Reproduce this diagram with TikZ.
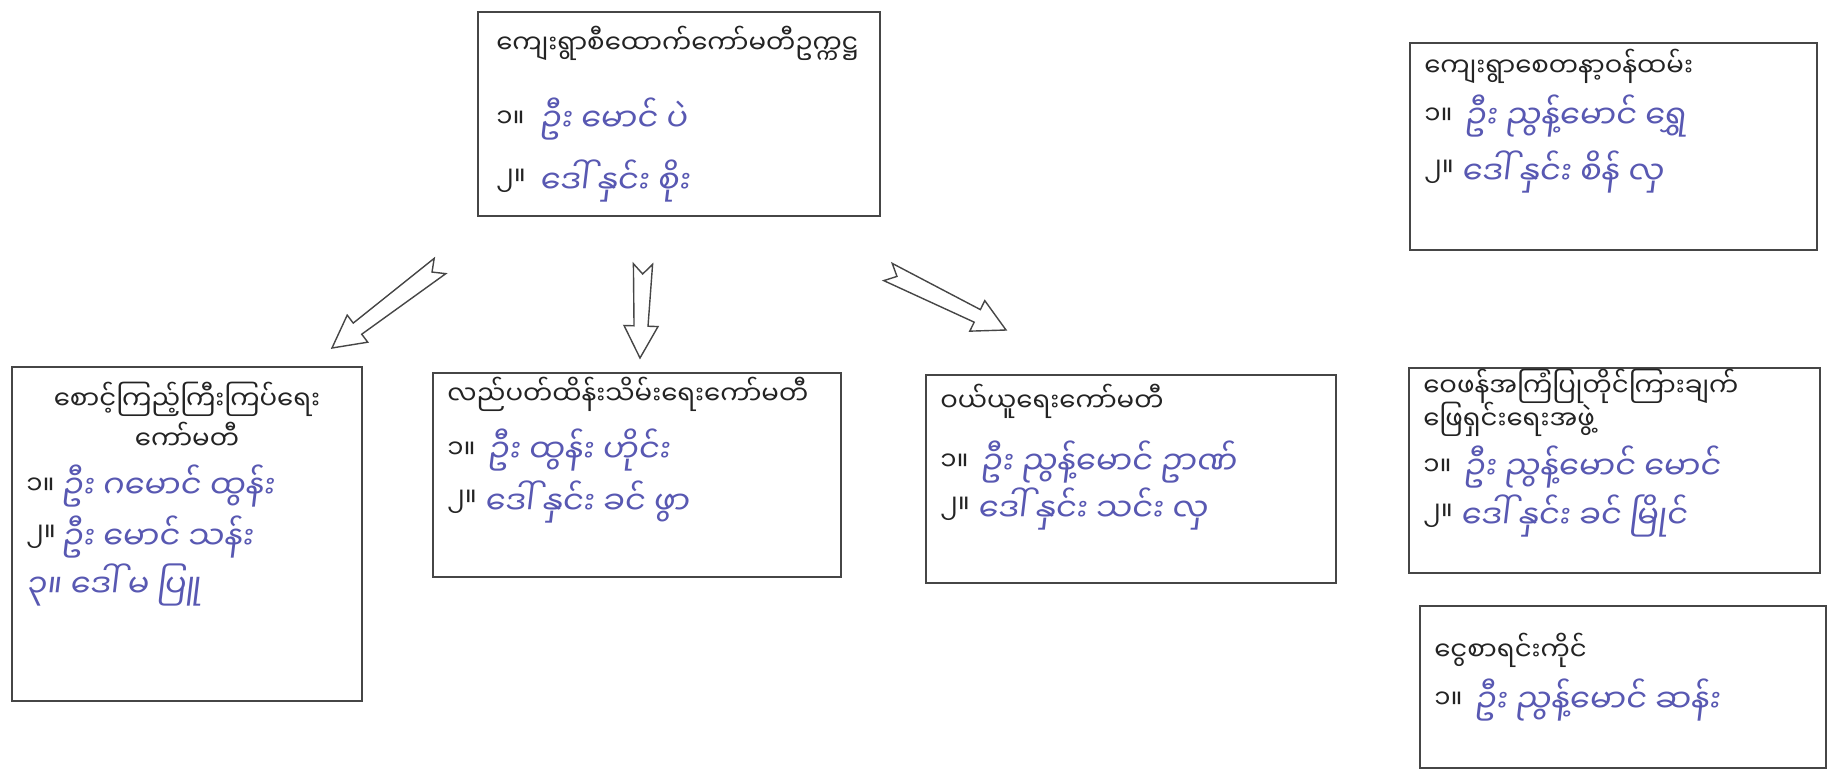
\documentclass[tikz,border=0pt]{standalone}
\usepackage{fontspec}
\usetikzlibrary{calc,fit}
\newfontfamily\mmfont[Script=Myanmar]{Noto Sans Myanmar UI}
\newfontfamily\mmhand[Script=Myanmar,FakeSlant=0.12]{Noto Sans Myanmar UI}
\definecolor{ink}{RGB}{88,88,178}
\definecolor{frame}{RGB}{70,70,70}
\definecolor{print}{RGB}{35,35,35}

\begin{document}
\begin{tikzpicture}[x=0.5pt,y=-0.5pt,
    box/.style={draw=frame, line width=1pt, inner sep=0pt},
    title/.style={anchor=west, inner sep=0pt, text=print, font=\mmfont\fontsize{13}{14}\selectfont},
    hand/.style={anchor=west, inner sep=0pt, text=ink, font=\mmhand\fontsize{16}{18}\selectfont},
    hollowarrow/.style={draw=frame, line width=0.7pt, fill=white, line join=miter,
        to path={($(\tikztostart)!5pt!(\tikztotarget)$)
            -- ($(\tikztostart)!4.8pt!90:(\tikztotarget)$)
            -- ($(\tikztotarget)!16pt!(\tikztostart)!3.5pt!90:(\tikztotarget)$)
            -- ($(\tikztotarget)!16pt!(\tikztostart)!8.5pt!90:(\tikztotarget)$)
            -- (\tikztotarget)
            -- ($(\tikztotarget)!16pt!(\tikztostart)!8.5pt!270:(\tikztotarget)$)
            -- ($(\tikztotarget)!16pt!(\tikztostart)!3.5pt!270:(\tikztotarget)$)
            -- ($(\tikztostart)!4.8pt!270:(\tikztotarget)$)
            -- cycle}}]
\useasboundingbox[fill=white] (0,0) rectangle (1838,772);

% boxes
\node[box, fit={(478,12) (880,216)}] (chair) {};
\node[box, fit={(12,367) (362,701)}] (watch) {};
\node[box, fit={(433,373) (841,577)}] (maint) {};
\node[box, fit={(926,375) (1336,583)}] (buy) {};
\node[box, fit={(1410,43) (1817,250)}] (volun) {};
\node[box, fit={(1409,368) (1820,573)}] (review) {};
\node[box, fit={(1420,606) (1826,768)}] (cash) {};

% chairman
\node[title] (chairT) at ($(chair.north west)+(19,32)$) {ကျေးရွာစီထောက်ကော်မတီဥက္ကဋ္ဌ};
\node[title] (chairN1) at ($(chair.north west)+(19,108)$) {၁။};
\node[hand] (chair1) at ($(chair.north west)+(62,108)$) {ဦး မောင် ပဲ};
\node[title] (chairN2) at ($(chair.north west)+(19,170)$) {၂။};
\node[hand] (chair2) at ($(chair.north west)+(62,170)$) {ဒေါ် နှင်း စိုး};

% watch committee
\node[title, anchor=center] (watchT1) at ($(watch.north)+(0,33)$) {စောင့်ကြည့်ကြီးကြပ်ရေး};
\node[title, anchor=center] (watchT2) at ($(watch.north)+(0,70)$) {ကော်မတီ};
\node[title] (watchN1) at ($(watch.north west)+(15,120)$) {၁။};
\node[hand] (watch1) at ($(watch.north west)+(50,120)$) {ဦး ဂမောင် ထွန်း};
\node[title] (watchN2) at ($(watch.north west)+(15,171)$) {၂။};
\node[hand] (watch2) at ($(watch.north west)+(50,171)$) {ဦး မောင် သန်း};
\node[hand] (watch3) at ($(watch.north west)+(15,219)$) {၃။ ဒေါ် မ ပြူ};

% maintenance committee
\node[title] (maintT) at ($(maint.north west)+(15,22)$) {လည်ပတ်ထိန်းသိမ်းရေးကော်မတီ};
\node[title] (maintN1) at ($(maint.north west)+(15,78)$) {၁။};
\node[hand] (maint1) at ($(maint.north west)+(55,78)$) {ဦး ထွန်း ဟိုင်း};
\node[title] (maintN2) at ($(maint.north west)+(15,130)$) {၂။};
\node[hand] (maint2) at ($(maint.north west)+(52,130)$) {ဒေါ် နှင်း ခင် ဖွာ};

% purchase committee
\node[title] (buyT) at ($(buy.north west)+(15,27)$) {ဝယ်ယူရေးကော်မတီ};
\node[title] (buyN1) at ($(buy.north west)+(15,88)$) {၁။};
\node[hand] (buy1) at ($(buy.north west)+(55,88)$) {ဦး ညွန့်မောင် ဥာဏ်};
\node[title] (buyN2) at ($(buy.north west)+(15,135)$) {၂။};
\node[hand] (buy2) at ($(buy.north west)+(52,135)$) {ဒေါ် နှင်း သင်း လှ};

% volunteers
\node[title] (volunT) at ($(volun.north west)+(15,24)$) {ကျေးရွာစေတနာ့ဝန်ထမ်း};
\node[title] (volunN1) at ($(volun.north west)+(15,74)$) {၁။};
\node[hand] (volun1) at ($(volun.north west)+(55,74)$) {ဦး ညွန့်မောင် ရွှေ};
\node[title] (volunN2) at ($(volun.north west)+(15,130)$) {၂။};
\node[hand] (volun2) at ($(volun.north west)+(52,130)$) {ဒေါ် နှင်း စိန် လှ};

% review group
\node[title] (reviewT1) at ($(review.north west)+(15,19)$) {ဝေဖန်အကြံပြုတိုင်ကြားချက်};
\node[title] (reviewT2) at ($(review.north west)+(15,52)$) {ဖြေရှင်းရေးအဖွဲ့};
\node[title] (reviewN1) at ($(review.north west)+(15,100)$) {၁။};
\node[hand] (review1) at ($(review.north west)+(55,100)$) {ဦး ညွန့်မောင် မောင်};
\node[title] (reviewN2) at ($(review.north west)+(15,149)$) {၂။};
\node[hand] (review2) at ($(review.north west)+(52,149)$) {ဒေါ် နှင်း ခင် မြိုင်};

% cashier
\node[title] (cashT) at ($(cash.north west)+(15,45)$) {ငွေစာရင်းကိုင်};
\node[title] (cashN1) at ($(cash.north west)+(15,95)$) {၁။};
\node[hand] (cash1) at ($(cash.north west)+(55,95)$) {ဦး ညွန့်မောင် ဆန်း};

% arrows
\coordinate (arrLs) at (440,266);
\coordinate (arrLe) at (332,348);
\coordinate (arrMs) at (643,264);
\coordinate (arrMe) at (640,358);
\coordinate (arrRs) at (888,272);
\coordinate (arrRe) at (1006,330);
\draw[hollowarrow] (arrLs) to (arrLe);
\draw[hollowarrow] (arrMs) to (arrMe);
\draw[hollowarrow] (arrRs) to (arrRe);
\end{tikzpicture}
\end{document}
